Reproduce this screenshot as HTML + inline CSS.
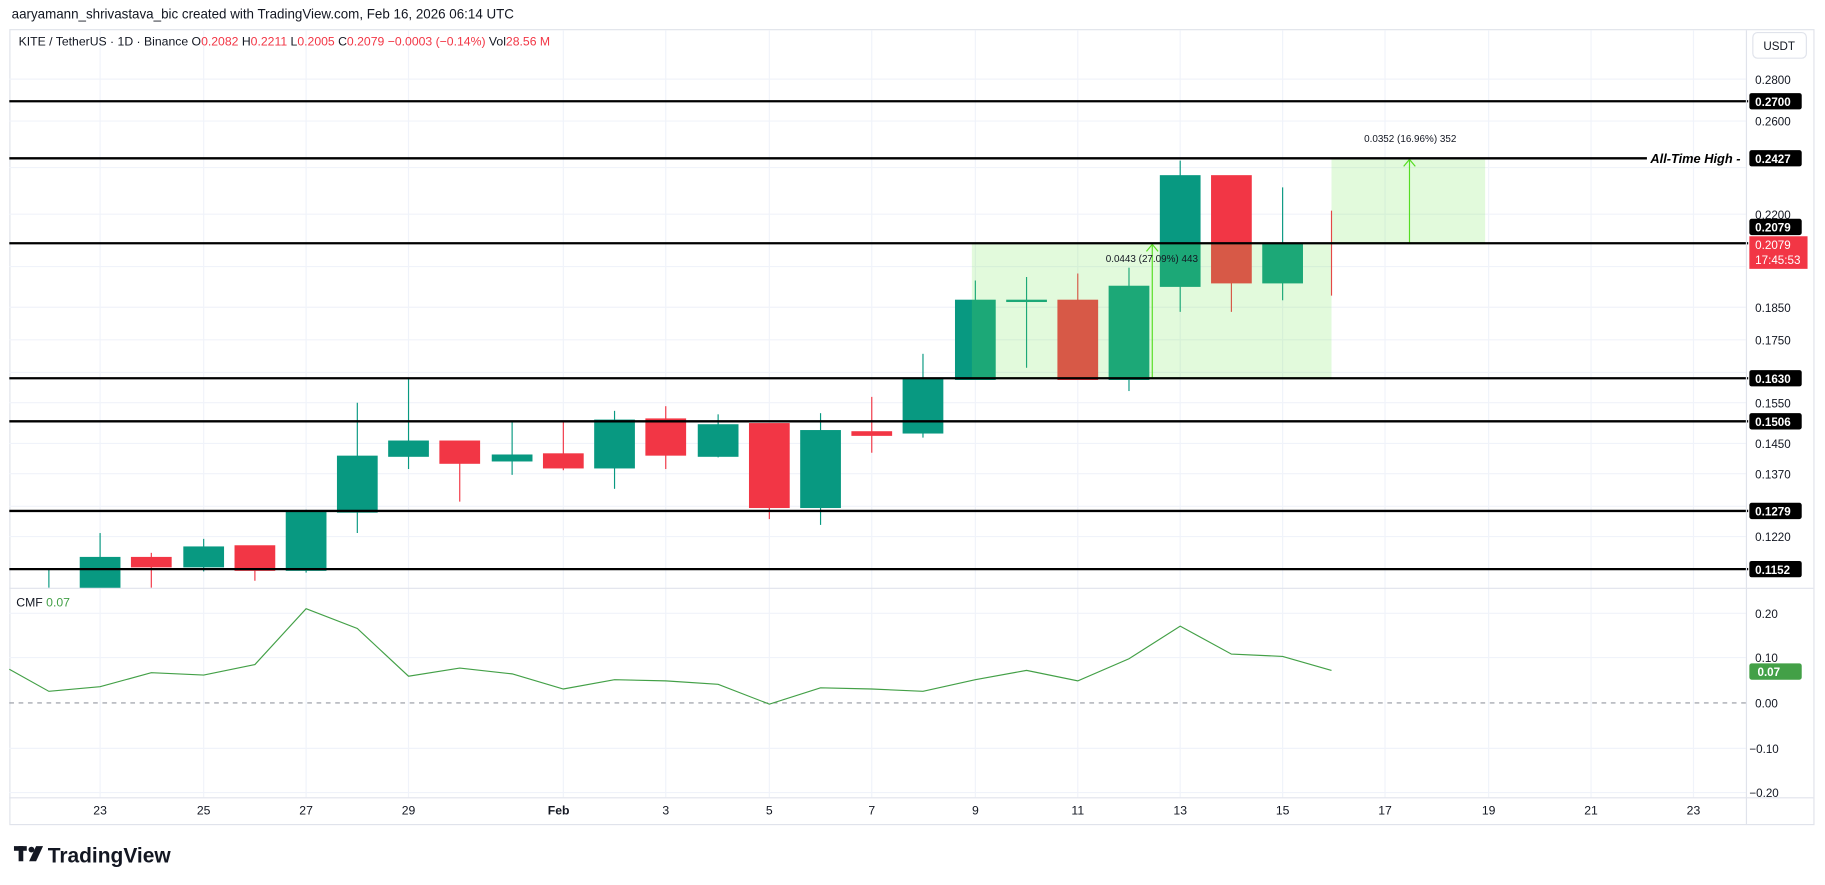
<!DOCTYPE html>
<html><head><meta charset="utf-8"><style>
html,body{margin:0;padding:0;background:#fff;width:1825px;height:885px;overflow:hidden}
svg{display:block}
text{font-family:"Liberation Sans",sans-serif}
</style></head><body>
<svg width="1825" height="885" viewBox="0 0 1568 760.4" preserveAspectRatio="none" xmlns="http://www.w3.org/2000/svg">
<rect width="1568" height="760.4" fill="#fff"/>
<text x="10" y="16" font-size="11.5" fill="#131722">aaryamann_shrivastava_bic created with TradingView.com, Feb 16, 2026 06:14 UTC</text>
<rect x="8.5" y="25.5" width="1550" height="683" fill="none" stroke="#e0e3eb"/>
<!-- grid -->
<g stroke="#f0f3fa" stroke-width="1">
<line x1="8" y1="68" x2="1500" y2="68"/><line x1="8" y1="104" x2="1500" y2="104"/><line x1="8" y1="144" x2="1500" y2="144"/><line x1="8" y1="184" x2="1500" y2="184"/><line x1="8" y1="229" x2="1500" y2="229"/><line x1="8" y1="264" x2="1500" y2="264"/><line x1="8" y1="292" x2="1500" y2="292"/><line x1="8" y1="320" x2="1500" y2="320"/><line x1="8" y1="346" x2="1500" y2="346"/><line x1="8" y1="381" x2="1500" y2="381"/><line x1="8" y1="407" x2="1500" y2="407"/><line x1="8" y1="435" x2="1500" y2="435"/><line x1="8" y1="461" x2="1500" y2="461"/>
<line x1="8" y1="527" x2="1500" y2="527"/><line x1="8" y1="565" x2="1500" y2="565"/><line x1="8" y1="643" x2="1500" y2="643"/><line x1="8" y1="681" x2="1500" y2="681"/>
<line x1="86" y1="26" x2="86" y2="685"/><line x1="175" y1="26" x2="175" y2="685"/><line x1="263" y1="26" x2="263" y2="685"/><line x1="351" y1="26" x2="351" y2="685"/><line x1="484" y1="26" x2="484" y2="685"/><line x1="572" y1="26" x2="572" y2="685"/><line x1="661" y1="26" x2="661" y2="685"/><line x1="749" y1="26" x2="749" y2="685"/><line x1="838" y1="26" x2="838" y2="685"/><line x1="926" y1="26" x2="926" y2="685"/><line x1="1014" y1="26" x2="1014" y2="685"/><line x1="1102" y1="26" x2="1102" y2="685"/><line x1="1190" y1="26" x2="1190" y2="685"/><line x1="1279" y1="26" x2="1279" y2="685"/><line x1="1367" y1="26" x2="1367" y2="685"/><line x1="1455" y1="26" x2="1455" y2="685"/>
</g>
<text x="16" y="39" font-size="10.5" fill="#131722">KITE / TetherUS · 1D · Binance  O<tspan fill="#f23645">0.2082</tspan>  H<tspan fill="#f23645">0.2211</tspan>  L<tspan fill="#f23645">0.2005</tspan>  C<tspan fill="#f23645">0.2079  −0.0003 (−0.14%)</tspan>  Vol<tspan fill="#f23645">28.56 M</tspan></text>
<!-- candles -->
<g stroke-width="1">
<line x1="42" y1="489" x2="42" y2="505" stroke="#089981"/>
<g stroke="#089981" fill="#089981"><line x1="86" y1="458" x2="86" y2="505"/><rect x="69" y="479" width="34" height="26"/></g>
<g stroke="#f23645" fill="#f23645"><line x1="130" y1="475" x2="130" y2="505"/><rect x="113" y="479" width="34" height="8"/></g>
<g stroke="#089981" fill="#089981"><line x1="175" y1="463" x2="175" y2="491"/><rect x="158" y="470" width="34" height="17"/></g>
<g stroke="#f23645" fill="#f23645"><line x1="219" y1="469" x2="219" y2="499"/><rect x="202" y="469" width="34" height="21"/></g>
<g stroke="#089981" fill="#089981"><line x1="263" y1="438" x2="263" y2="492"/><rect x="246" y="439" width="34" height="51"/></g>
<g stroke="#089981" fill="#089981"><line x1="307" y1="346" x2="307" y2="458"/><rect x="290" y="392" width="34" height="48"/></g>
<g stroke="#089981" fill="#089981"><line x1="351" y1="325" x2="351" y2="403"/><rect x="334" y="379" width="34" height="13"/></g>
<g stroke="#f23645" fill="#f23645"><line x1="395" y1="379" x2="395" y2="431"/><rect x="378" y="379" width="34" height="19"/></g>
<g stroke="#089981" fill="#089981"><line x1="440" y1="362" x2="440" y2="408"/><rect x="423" y="391" width="34" height="5"/></g>
<g stroke="#f23645" fill="#f23645"><line x1="484" y1="362" x2="484" y2="404"/><rect x="467" y="390" width="34" height="12"/></g>
<g stroke="#089981" fill="#089981"><line x1="528" y1="353" x2="528" y2="420"/><rect x="511" y="361" width="34" height="41"/></g>
<g stroke="#f23645" fill="#f23645"><line x1="572" y1="349" x2="572" y2="403"/><rect x="555" y="360" width="34" height="31"/></g>
<g stroke="#089981" fill="#089981"><line x1="617" y1="356" x2="617" y2="393"/><rect x="600" y="365" width="34" height="27"/></g>
<g stroke="#f23645" fill="#f23645"><line x1="661" y1="364" x2="661" y2="446"/><rect x="644" y="364" width="34" height="72"/></g>
<g stroke="#089981" fill="#089981"><line x1="705" y1="355" x2="705" y2="451"/><rect x="688" y="370" width="34" height="66"/></g>
<g stroke="#f23645" fill="#f23645"><line x1="749" y1="341" x2="749" y2="389"/><rect x="732" y="371" width="34" height="3"/></g>
<g stroke="#089981" fill="#089981"><line x1="793" y1="304" x2="793" y2="376"/><rect x="776" y="325" width="34" height="47"/></g>
<g stroke="#089981" fill="#089981"><line x1="838" y1="241" x2="838" y2="326"/><rect x="821" y="258" width="34" height="68"/></g>
<g stroke="#089981" fill="#089981"><line x1="882" y1="238" x2="882" y2="316"/><rect x="865" y="258" width="34" height="1"/></g>
<g stroke="#f23645" fill="#f23645"><line x1="926" y1="235" x2="926" y2="326"/><rect x="909" y="258" width="34" height="68"/></g>
<g stroke="#089981" fill="#089981"><line x1="970" y1="230" x2="970" y2="336"/><rect x="953" y="246" width="34" height="80"/></g>
<g stroke="#089981" fill="#089981"><line x1="1014" y1="138" x2="1014" y2="268"/><rect x="997" y="151" width="34" height="95"/></g>
<g stroke="#f23645" fill="#f23645"><line x1="1058" y1="151" x2="1058" y2="268"/><rect x="1041" y="151" width="34" height="92"/></g>
<g stroke="#089981" fill="#089981"><line x1="1102" y1="161" x2="1102" y2="258"/><rect x="1085" y="209" width="34" height="34"/></g>
<line x1="1144" y1="181" x2="1144" y2="254" stroke="#f23645"/>
</g>
<!-- boxes -->
<rect x="835" y="209" width="309" height="116" fill="rgba(110,230,80,0.2)"/>
<line x1="835" y1="325" x2="1144" y2="325" stroke="#55d030" stroke-width="1.5"/>
<line x1="990" y1="325" x2="990" y2="210" stroke="#55dd22" stroke-width="1"/>
<polyline points="985,216 990,210 995,216" fill="none" stroke="#55dd22"/>
<text x="950" y="225" font-size="8.5" fill="#131722">0.0443 (27.09%) 443</text>
<rect x="1144" y="136" width="132" height="73" fill="rgba(110,230,80,0.2)"/>
<line x1="1144" y1="209" x2="1276" y2="209" stroke="#55d030" stroke-width="1.5"/>
<line x1="1211" y1="209" x2="1211" y2="137" stroke="#55dd22"/>
<polyline points="1206,143 1211,137 1216,143" fill="none" stroke="#55dd22"/>
<text x="1172" y="122" font-size="8.5" fill="#131722">0.0352 (16.96%) 352</text>
<!-- horizontal levels -->
<g stroke="#000" stroke-width="2">
<line x1="8" y1="87" x2="1502" y2="87"/><line x1="8" y1="136" x2="1415" y2="136"/><line x1="8" y1="209" x2="1502" y2="209"/><line x1="8" y1="325" x2="1502" y2="325"/><line x1="8" y1="362" x2="1502" y2="362"/><line x1="8" y1="439" x2="1502" y2="439"/><line x1="8" y1="489" x2="1502" y2="489"/>
</g>
<text x="1418" y="140" font-size="11" font-style="italic" font-weight="bold" fill="#000">All-Time High -</text>
<!-- right axis -->
<line x1="1500.5" y1="26" x2="1500.5" y2="708" stroke="#e0e3eb"/>
<rect x="1506" y="28" width="46" height="22" rx="4" fill="#fff" stroke="#e0e3eb"/>
<text x="1515" y="43" font-size="10" fill="#131722">USDT</text>
<g font-size="10" fill="#131722">
<text x="1508" y="72">0.2800</text><text x="1508" y="108">0.2600</text><text x="1508" y="188">0.2200</text><text x="1508" y="268">0.1850</text><text x="1508" y="296">0.1750</text><text x="1508" y="350">0.1550</text><text x="1508" y="385">0.1450</text><text x="1508" y="411">0.1370</text><text x="1508" y="465">0.1220</text>
<text x="1508" y="531">0.20</text><text x="1508" y="569">0.10</text><text x="1508" y="608">0.00</text><text x="1503" y="647">−0.10</text><text x="1503" y="685">−0.20</text>
</g>
<g font-size="10" font-weight="bold" fill="#fff">
<rect x="1503" y="80" width="45" height="14" rx="2" fill="#000"/><text x="1508" y="91">0.2700</text>
<rect x="1503" y="129" width="45" height="14" rx="2" fill="#000"/><text x="1508" y="140">0.2427</text>
<rect x="1503" y="188" width="45" height="14" rx="2" fill="#000"/><text x="1508" y="199">0.2079</text>
<rect x="1503" y="318" width="45" height="14" rx="2" fill="#000"/><text x="1508" y="329">0.1630</text>
<rect x="1503" y="355" width="45" height="14" rx="2" fill="#000"/><text x="1508" y="366">0.1506</text>
<rect x="1503" y="432" width="45" height="14" rx="2" fill="#000"/><text x="1508" y="443">0.1279</text>
<rect x="1503" y="482" width="45" height="14" rx="2" fill="#000"/><text x="1508" y="493">0.1152</text>
<rect x="1503" y="203" width="50" height="28" fill="#f23645"/><text x="1508" y="214" font-weight="normal">0.2079</text><text x="1508" y="227" font-weight="normal">17:45:53</text>
<rect x="1503" y="570" width="45" height="14" rx="2" fill="#43a047"/><text x="1510" y="581">0.07</text>
</g>
<!-- CMF pane -->
<line x1="8" y1="505.5" x2="1558" y2="505.5" stroke="#e0e3eb"/>
<text x="14" y="521" font-size="10.5" fill="#131722">CMF <tspan fill="#43a047">0.07</tspan></text>
<line x1="8" y1="604" x2="1500" y2="604" stroke="#9598a1" stroke-dasharray="4,4"/>
<polyline fill="none" stroke="#43a047" stroke-width="1" points="8,575 42,594 86,590 130,578 175,580 219,571 263,523 307,540 351,581 395,574 440,579 484,592 528,584 572,585 617,588 661,605 705,591 749,592 793,594 838,584 882,576 926,585 970,566 1014,538 1058,562 1102,564 1144,576"/>
<!-- date axis -->
<line x1="8" y1="685.5" x2="1558" y2="685.5" stroke="#e0e3eb"/>
<g font-size="10.5" fill="#131722" text-anchor="middle">
<text x="86" y="700">23</text><text x="175" y="700">25</text><text x="263" y="700">27</text><text x="351" y="700">29</text><text x="480" y="700" font-weight="bold">Feb</text><text x="572" y="700">3</text><text x="661" y="700">5</text><text x="749" y="700">7</text><text x="838" y="700">9</text><text x="926" y="700">11</text><text x="1014" y="700">13</text><text x="1102" y="700">15</text><text x="1190" y="700">17</text><text x="1279" y="700">19</text><text x="1367" y="700">21</text><text x="1455" y="700">23</text>
</g>
<!-- logo -->
<g fill="#131722">
<rect x="12" y="727" width="11" height="4"/><rect x="16" y="727" width="4" height="13"/>
<circle cx="27" cy="730" r="2.5"/>
<polygon points="31,727 37,727 31,740 25,740"/>
</g>
<text x="41" y="741" font-size="18" font-weight="bold" fill="#131722">TradingView</text>
</svg>
</body></html>
